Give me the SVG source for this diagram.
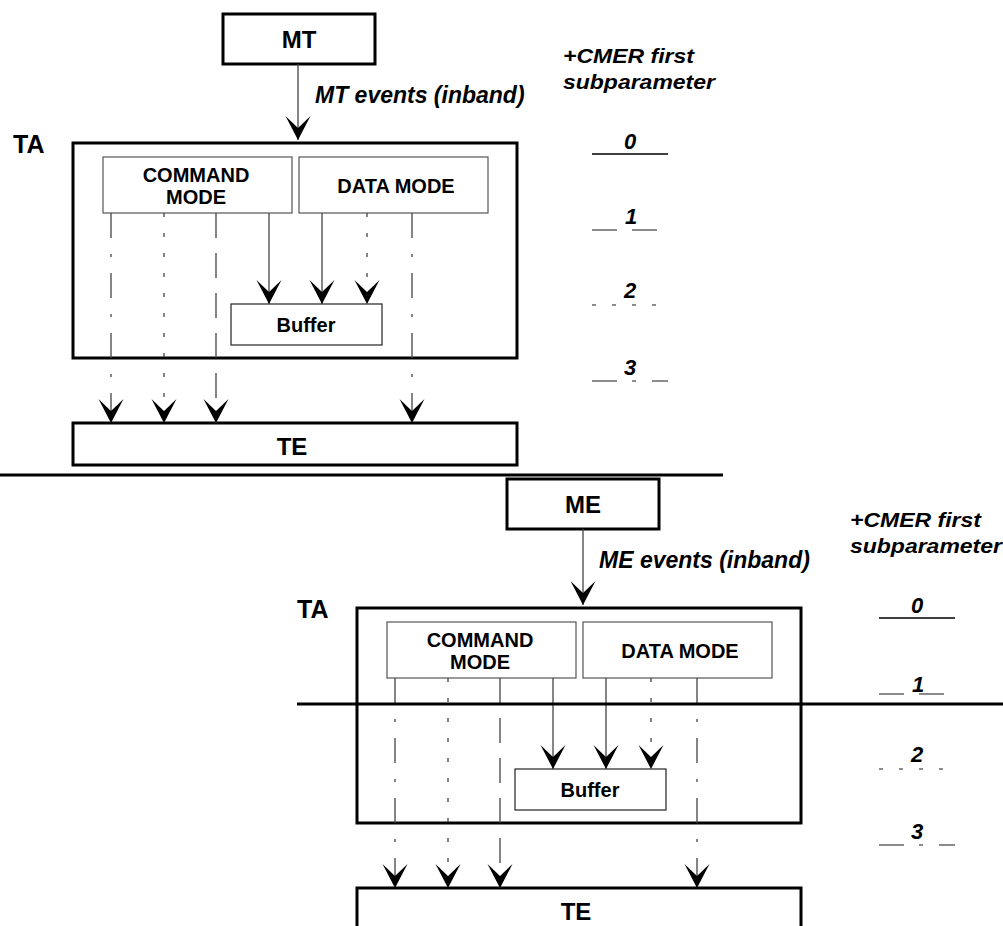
<svg xmlns="http://www.w3.org/2000/svg" width="1003" height="926" viewBox="0 0 1003 926">
<style>
.bg{fill:#fff}
.thick{fill:none;stroke:#000;stroke-width:3}
.thin{fill:none;stroke:#555;stroke-width:1.2}
.buf{fill:none;stroke:#222;stroke-width:1.2}
.ln{fill:none;stroke:#444;stroke-width:1.3}
.s1{stroke-dasharray:25 15}
.s2{stroke-dasharray:4 16}
.s3{stroke-dasharray:25 16 3 16}
.sep{stroke:#000;stroke-width:3}
.t{font-family:"Liberation Sans",Arial,sans-serif;font-weight:bold;fill:#000}
.bi{font-family:"Liberation Sans",Arial,sans-serif;font-weight:bold;font-style:italic;fill:#000}
.lg{fill:none;stroke:#000;stroke-width:1.5}
.lgg{fill:none;stroke:#666;stroke-width:1.5}
</style>
<defs>
<marker id="arr" markerUnits="userSpaceOnUse" markerWidth="28" markerHeight="28" viewBox="-26 -14 28 28" refX="0" refY="0" orient="auto">
<path d="M0,0 L-24,-12.5 L-12,0 L-24,12.5 Z" fill="#000"/>
</marker>
</defs>
<rect class="bg" x="0" y="0" width="1003" height="926"/>

<g id="upper">
  <g id="mt"><rect class="thick" x="223" y="14" width="152" height="50"/><text class="t" x="299" y="48" font-size="24" text-anchor="middle">MT</text></g>
  <g id="mt-label"><text class="bi" x="315" y="103" font-size="23">MT events (inband)</text></g>
  <g id="ta"><rect class="thick" x="73" y="143" width="444" height="215"/><text class="t" x="13" y="153" font-size="25">TA</text></g>
  <g id="cmd"><rect class="thin" x="103" y="157" width="189" height="56"/><text class="t" x="196" y="182" font-size="20" text-anchor="middle">COMMAND</text><text class="t" x="196" y="204" font-size="20" text-anchor="middle">MODE</text></g>
  <g id="data"><rect class="thin" x="299" y="157" width="189" height="56"/><text class="t" x="396" y="193" font-size="20" text-anchor="middle">DATA MODE</text></g>
  <g id="buffer"><rect class="buf" x="231" y="304" width="151" height="41"/><text class="t" x="306" y="332" font-size="20" text-anchor="middle">Buffer</text></g>
  <g id="te"><rect class="thick" x="73" y="423" width="444" height="42"/><text class="t" x="292" y="455" font-size="24" text-anchor="middle">TE</text></g>
  <g id="connectors-upper">
    <line class="ln" x1="298" y1="64" x2="298" y2="140" marker-end="url(#arr)"/>
    <line class="ln s3" x1="111" y1="213" x2="111" y2="423" marker-end="url(#arr)"/>
    <line class="ln s2" x1="164" y1="213" x2="164" y2="423" marker-end="url(#arr)"/>
    <line class="ln s1" x1="216" y1="213" x2="216" y2="423" marker-end="url(#arr)"/>
    <line class="ln" x1="269" y1="213" x2="269" y2="304" marker-end="url(#arr)"/>
    <line class="ln" x1="322" y1="213" x2="322" y2="304" marker-end="url(#arr)"/>
    <line class="ln s2" x1="367" y1="213" x2="367" y2="304" marker-end="url(#arr)"/>
    <line class="ln s3" x1="412" y1="213" x2="412" y2="423" marker-end="url(#arr)"/>
  </g>
</g>

<g id="lower" transform="translate(284,465)">
  <g id="me"><rect class="thick" x="223" y="14" width="152" height="50"/><text class="t" x="299" y="48" font-size="24" text-anchor="middle">ME</text></g>
  <g id="me-label"><text class="bi" x="315" y="103" font-size="23">ME events (inband)</text></g>
  <g id="ta2"><rect class="thick" x="73" y="143" width="444" height="215"/><text class="t" x="13" y="153" font-size="25">TA</text></g>
  <g id="cmd2"><rect class="thin" x="103" y="157" width="189" height="56"/><text class="t" x="196" y="182" font-size="20" text-anchor="middle">COMMAND</text><text class="t" x="196" y="204" font-size="20" text-anchor="middle">MODE</text></g>
  <g id="data2"><rect class="thin" x="299" y="157" width="189" height="56"/><text class="t" x="396" y="193" font-size="20" text-anchor="middle">DATA MODE</text></g>
  <g id="buffer2"><rect class="buf" x="231" y="304" width="151" height="41"/><text class="t" x="306" y="332" font-size="20" text-anchor="middle">Buffer</text></g>
  <g id="te2"><rect class="thick" x="73" y="423" width="444" height="42"/><text class="t" x="292" y="455" font-size="24" text-anchor="middle">TE</text></g>
  <g id="connectors-lower">
    <line class="ln" x1="299" y1="64" x2="299" y2="140" marker-end="url(#arr)"/>
    <line class="ln s3" x1="111" y1="213" x2="111" y2="423" marker-end="url(#arr)"/>
    <line class="ln s2" x1="164" y1="213" x2="164" y2="423" marker-end="url(#arr)"/>
    <line class="ln s1" x1="216" y1="213" x2="216" y2="423" marker-end="url(#arr)"/>
    <line class="ln" x1="269" y1="213" x2="269" y2="304" marker-end="url(#arr)"/>
    <line class="ln" x1="322" y1="213" x2="322" y2="304" marker-end="url(#arr)"/>
    <line class="ln s2" x1="367" y1="213" x2="367" y2="304" marker-end="url(#arr)"/>
    <line class="ln s3" x1="413" y1="213" x2="413" y2="423" marker-end="url(#arr)"/>
  </g>
</g>

<g id="separators">
  <line class="sep" x1="0" y1="475" x2="723" y2="475"/>
  <line class="sep" x1="297" y1="704" x2="1003" y2="704"/>
</g>

<g id="legend-upper">
  <text class="bi" x="563" y="63" font-size="21" textLength="131" lengthAdjust="spacingAndGlyphs">+CMER first</text>
  <text class="bi" x="563" y="89" font-size="21" textLength="152" lengthAdjust="spacingAndGlyphs">subparameter</text>
  <text class="bi" x="630" y="149" font-size="22" text-anchor="middle">0</text>
  <line class="lg" x1="592" y1="154" x2="668" y2="154"/>
  <text class="bi" x="631" y="224" font-size="22" text-anchor="middle">1</text>
  <line class="lgg" x1="592" y1="230" x2="668" y2="230" stroke-dasharray="25 15"/>
  <text class="bi" x="630" y="298" font-size="22" text-anchor="middle">2</text>
  <line class="lgg" x1="592" y1="305" x2="668" y2="305" stroke-dasharray="4 16"/>
  <text class="bi" x="630" y="375" font-size="22" text-anchor="middle">3</text>
  <line class="lgg" x1="592" y1="381" x2="668" y2="381" stroke-dasharray="25 15 4 16"/>
</g>

<g id="legend-lower" transform="translate(287,464)">
  <text class="bi" x="563" y="63" font-size="21" textLength="131" lengthAdjust="spacingAndGlyphs">+CMER first</text>
  <text class="bi" x="563" y="89" font-size="21" textLength="152" lengthAdjust="spacingAndGlyphs">subparameter</text>
  <text class="bi" x="630" y="149" font-size="22" text-anchor="middle">0</text>
  <line class="lg" x1="592" y1="154" x2="668" y2="154"/>
  <text class="bi" x="631" y="228" font-size="22" text-anchor="middle">1</text>
  <line class="lgg" x1="592" y1="230" x2="668" y2="230" stroke-dasharray="25 15"/>
  <text class="bi" x="630" y="298" font-size="22" text-anchor="middle">2</text>
  <line class="lgg" x1="592" y1="305" x2="668" y2="305" stroke-dasharray="4 16"/>
  <text class="bi" x="630" y="375" font-size="22" text-anchor="middle">3</text>
  <line class="lgg" x1="592" y1="381" x2="668" y2="381" stroke-dasharray="25 15 4 16"/>
</g>
</svg>
